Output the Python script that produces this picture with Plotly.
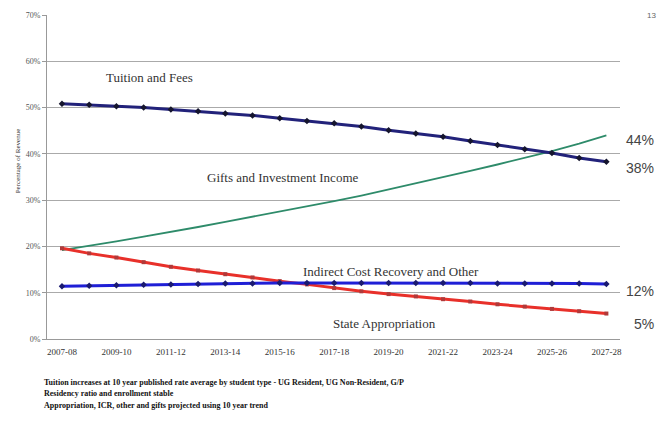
import plotly.graph_objects as go

years = ["2007-08", "2008-09", "2009-10", "2010-11", "2011-12", "2012-13", "2013-14",
         "2014-15", "2015-16", "2016-17", "2017-18", "2018-19", "2019-20", "2020-21",
         "2021-22", "2022-23", "2023-24", "2024-25", "2025-26", "2026-27", "2027-28"]
tick_labels = years[::2]

tuition = [50.8, 50.6, 50.3, 50.0, 49.6, 49.2, 48.7, 48.3, 47.7, 47.1, 46.6, 45.9,
           45.1, 44.4, 43.7, 42.8, 41.9, 41.0, 40.2, 39.1, 38.3]
gifts = [19.2, 20.1, 21.1, 22.1, 23.1, 24.2, 25.3, 26.4, 27.5, 28.6, 29.8, 31.0,
         32.3, 33.6, 34.9, 36.3, 37.7, 39.1, 40.6, 42.2, 44.0]
icr = [11.4, 11.5, 11.6, 11.7, 11.8, 11.9, 12.0, 12.0, 12.1, 12.1, 12.1, 12.1,
       12.1, 12.1, 12.1, 12.1, 12.0, 12.0, 12.0, 12.0, 11.9]
state = [19.6, 18.5, 17.6, 16.6, 15.6, 14.8, 14.0, 13.3, 12.5, 11.8, 11.0, 10.3,
         9.7, 9.2, 8.6, 8.1, 7.5, 7.0, 6.5, 6.0, 5.5]

fig = go.Figure()
fig.add_trace(go.Scatter(x=years, y=gifts, mode="lines", name="Gifts and Investment Income",
                         line=dict(color="#2e8b6a", width=1.8)))
fig.add_trace(go.Scatter(x=years, y=state, mode="lines+markers", name="State Appropriation",
                         line=dict(color="#e8302a", width=3),
                         marker=dict(symbol="square", size=4, color="#b03a3a")))
fig.add_trace(go.Scatter(x=years, y=icr, mode="lines+markers", name="Indirect Cost Recovery and Other",
                         line=dict(color="#1f1fd6", width=3),
                         marker=dict(symbol="diamond", size=5, color="#1a1a70")))
fig.add_trace(go.Scatter(x=years, y=tuition, mode="lines+markers", name="Tuition and Fees",
                         line=dict(color="#22227a", width=3),
                         marker=dict(symbol="diamond", size=5, color="#15152e")))

serif = "Liberation Serif, Times New Roman, serif"
sans = "Liberation Sans, Arial, sans-serif"

ann = [
    dict(x=3.2, y=56.4, xref="x", yref="y", text="Tuition and Fees", showarrow=False,
         font=dict(family=serif, size=13, color="#333")),
    dict(x=8.1, y=35.0, xref="x", yref="y", text="Gifts and Investment Income", showarrow=False,
         font=dict(family=serif, size=13, color="#333")),
    dict(x=12.1, y=14.6, xref="x", yref="y", text="Indirect Cost Recovery and Other", showarrow=False,
         font=dict(family=serif, size=13, color="#333")),
    dict(x=11.85, y=3.4, xref="x", yref="y", text="State Appropriation", showarrow=False,
         font=dict(family=serif, size=13, color="#333")),
]
for txt, yv in [("44%", 43.0), ("38%", 37.0), ("12%", 10.4), ("5%", 3.2)]:
    ann.append(dict(x=1.063, y=yv, xref="paper", yref="y", text=txt, showarrow=False,
                    xanchor="right", font=dict(family=sans, size=14, color="#444")))

notes = ["Tuition increases at 10 year published rate average by student type - UG Resident, UG Non-Resident, G/P",
         "Residency ratio and enrollment stable",
         "Appropriation, ICR, other and gifts projected using 10 year trend"]
for i, n in enumerate(notes):
    ann.append(dict(x=-0.009, y=-0.133 - i * 0.036, xref="paper", yref="paper", text="<b>" + n + "</b>",
                    showarrow=False, xanchor="left", yanchor="middle",
                    font=dict(family=serif, size=8, color="#111")))
ann.append(dict(x=1.055, y=1.0, xref="paper", yref="paper", text="13", showarrow=False,
                xanchor="center", yanchor="middle", font=dict(family=sans, size=8, color="#666")))
ann.append(dict(x=-0.062, y=0.55, xref="paper", yref="paper", text="Percentage of Revenue",
                textangle=-90, showarrow=False, font=dict(family=serif, size=7, color="#333")))

fig.update_layout(
    width=661, height=423,
    margin=dict(l=47, r=41, t=15, b=84),
    paper_bgcolor="white", plot_bgcolor="white",
    showlegend=False,
    annotations=ann,
    xaxis=dict(type="category", range=[-0.55, 20.5], tickmode="array", tickvals=tick_labels,
               ticktext=tick_labels, showgrid=False, showline=True, linecolor="#999", linewidth=1,
               ticks="outside", ticklen=4, tickcolor="rgba(0,0,0,0)",
               tickfont=dict(family=serif, size=9, color="#333")),
    yaxis=dict(range=[0, 70], dtick=10, ticksuffix="%", showgrid=True, gridcolor="#aaa",
               gridwidth=1, showline=True, linecolor="#999", linewidth=1, ticks="outside",
               ticklen=4, tickcolor="#999", zeroline=False,
               tickfont=dict(family=serif, size=8, color="#555")),
)

fig.write_html("out.html", config={"displayModeBar": False},
               post_script="document.body.style.margin='0';document.body.style.overflow='hidden';")
